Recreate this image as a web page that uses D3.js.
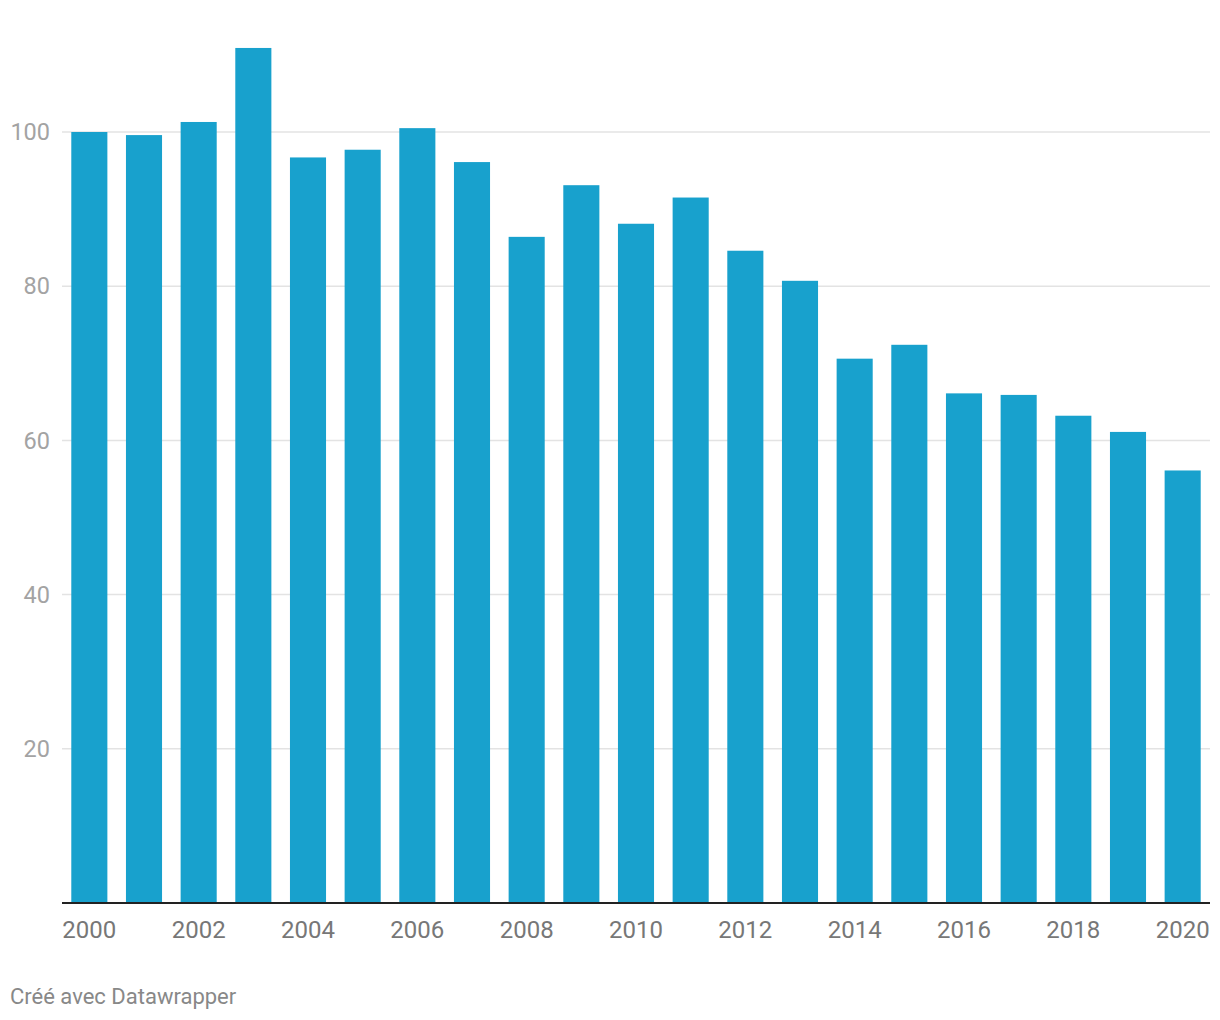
<!DOCTYPE html>
<html><head><meta charset="utf-8">
<script src="https://cdn.jsdelivr.net/npm/d3@7"></script>
<style>
body{margin:0;background:#fff;font-family:Roboto,"Noto Sans",sans-serif;}
</style></head>
<body>
<svg id="chart" width="1220" height="1020"></svg>
<script>
const years = ["2000","2001","2002","2003","2004","2005","2006","2007","2008","2009","2010","2011","2012","2013","2014","2015","2016","2017","2018","2019","2020"];
const values = [100,99.6,101.3,110.9,96.7,97.7,100.5,96.1,86.4,93.1,88.1,91.5,84.6,80.7,70.6,72.4,66.1,65.9,63.2,61.1,56.1];
const yTicks = [20,40,60,80,100];
const xTickLabels = ["2000","2002","2004","2006","2008","2010","2012","2014","2016","2018","2020"];
const footer = "Créé avec Datawrapper";

const svg = d3.select("#chart");
const mLeft = 62, mRight = 1210, mTop = 132, mBottom = 903;
const x = d3.scaleBand().domain(years).range([mLeft, mRight]).paddingInner(0.34).paddingOuter(0.17);
const y = d3.scaleLinear().domain([0,100]).range([mBottom, mTop]);

// gridlines
svg.append("g").selectAll("line").data(yTicks).join("line")
  .attr("x1", mLeft).attr("x2", mRight)
  .attr("y1", d => y(d)).attr("y2", d => y(d))
  .attr("stroke", "#e3e3e3").attr("stroke-width", 1.5);

// y labels
svg.append("g").selectAll("text").data(yTicks).join("text")
  .attr("x", 50).attr("y", d => y(d)).attr("dy", "0.35em")
  .attr("text-anchor", "end").attr("fill", "#a3a3a3")
  .style("font-size", "23.5px").text(d => d);

// bars
svg.append("g").selectAll("rect").data(values).join("rect")
  .attr("x", (d,i) => x(years[i])).attr("width", x.bandwidth())
  .attr("y", d => y(d)).attr("height", d => y(0) - y(d))
  .attr("fill", "#18a1cd");

// baseline
svg.append("line").attr("x1", mLeft).attr("x2", mRight)
  .attr("y1", y(0)).attr("y2", y(0)).attr("stroke", "#222").attr("stroke-width", 2);

// x labels
svg.append("g").selectAll("text").data(xTickLabels).join("text")
  .attr("x", d => x(d) + x.bandwidth()/2).attr("y", 938)
  .attr("text-anchor", "middle").attr("fill", "#777")
  .style("font-size", "24px").text(d => d);

svg.append("text").attr("x", 10).attr("y", 1004)
  .attr("fill", "#888").style("font-size", "22px").text(footer);
</script>
</body></html>
